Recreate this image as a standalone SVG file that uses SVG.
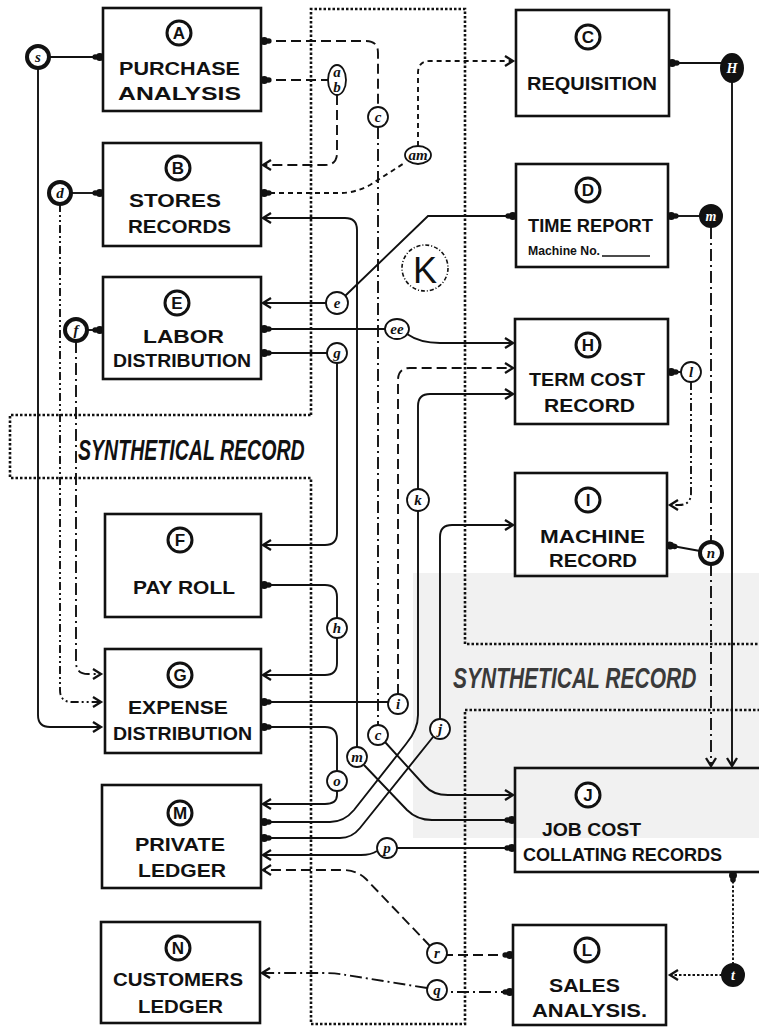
<svg xmlns="http://www.w3.org/2000/svg" width="759" height="1029" viewBox="0 0 759 1029">
<defs>
<style>
.box{fill:none;stroke:#111;stroke-width:2.6}
.bt{font-family:"Liberation Sans",Arial,sans-serif;font-weight:700;font-size:18px;fill:#111}
.nl{font-family:"Liberation Sans",Arial,sans-serif;font-weight:700;font-size:17px;fill:#111;text-anchor:middle}
.nc{fill:#fff;stroke:#111;stroke-width:3}
.sc{fill:#fff;stroke:#111;stroke-width:1.8}
.bc{fill:#fff;stroke:#111;stroke-width:4}
.fc{fill:#111;stroke:#111;stroke-width:2}
.sl{font-family:"Liberation Serif","Times New Roman",serif;font-style:italic;font-weight:700;font-size:15px;fill:#111;text-anchor:middle}
.wl{font-family:"Liberation Serif","Times New Roman",serif;font-style:italic;font-weight:700;font-size:14px;fill:#fff;text-anchor:middle}
.ln{fill:none;stroke:#111;stroke-width:1.9}
.dash{stroke-dasharray:10 5}
.sdash{stroke-dasharray:5 4}
.dd{stroke-dasharray:12 4 2 4}
.ddd{stroke-dasharray:8 3 2 3 2 3}
.dot{stroke-dasharray:2.5 2}
.syn{font-family:"Liberation Sans",Arial,sans-serif;font-style:italic;font-weight:700;font-size:30px}
</style>
<marker id="ar" markerUnits="userSpaceOnUse" markerWidth="14" markerHeight="14" refX="0" refY="0" viewBox="-10 -7 12 14" orient="auto">
<path d="M-8,-5 L0,0 L-8,5" fill="none" stroke="#111" stroke-width="2.3"/>
</marker>
<marker id="ba" markerUnits="userSpaceOnUse" markerWidth="16" markerHeight="14" refX="0" refY="0" viewBox="-1 -7 14 14" orient="auto">
<circle cx="3.2" cy="0" r="4" fill="#111"/>
<circle cx="7.8" cy="0" r="2.8" fill="#111"/>
</marker>
</defs>
<rect width="759" height="1029" fill="#fff"/>
<rect x="413" y="573" width="346" height="265" fill="#f1f1f1"/>

<g id="boundary">
<path d="M311,415 V9 H465 V644 H760 M760,710 H465 V1024 H311 V478 H10 V415 H311" fill="none" stroke="#111" stroke-width="2.6" stroke-dasharray="2.5 2"/>
<circle cx="425" cy="268" r="23" fill="none" stroke="#111" stroke-width="1.6" stroke-dasharray="4 2 1 2"/>
<text x="425" y="283" font-family="Liberation Sans,Arial,sans-serif" font-size="36" text-anchor="middle" fill="#111">K</text>
<text class="syn" transform="translate(78,460) scale(0.652,1)" x="0" y="0" fill="#111">SYNTHETICAL RECORD</text>
<text class="syn" transform="translate(453,688) scale(0.70,1)" x="0" y="0" fill="#3a3a3a">SYNTHETICAL RECORD</text>
</g>

<g id="connectors">
<path class="ln" d="M103,57 H49" marker-start="url(#ba)"/>
<path class="ln" d="M38,68 V715 Q38,727 50,727 H101" marker-end="url(#ar)"/>
<path class="ln" d="M103,193 H71" marker-start="url(#ba)"/>
<path class="ln ddd" d="M60,204 V690 Q60,702 72,702 H101" marker-end="url(#ar)"/>
<path class="ln" d="M103,330 H87" marker-start="url(#ba)"/>
<path class="ln dd" d="M76,341 V662 Q76,674 88,674 H101" marker-end="url(#ar)"/>
<path class="ln dash" d="M261,41 H366 Q378,41 378,53 V107" marker-start="url(#ba)"/>
<path class="ln dd" d="M378,127 V725"/>
<path class="ln" d="M385,742 L425,786 Q433,795 448,795 H513" marker-end="url(#ar)"/>
<path class="ln dash" d="M261,80 H328" marker-start="url(#ba)"/>
<path class="ln dash" d="M337,95 V153 Q337,165 325,165 H263" marker-end="url(#ar)"/>
<path class="ln sdash" d="M261,193 H340 Q355,193 370,185 L406,162" marker-start="url(#ba)"/>
<path class="ln sdash" d="M418,146 V73 Q418,61 430,61 H513" marker-end="url(#ar)"/>
<path class="ln" d="M515,820 H432 Q417,820 407,810 L364,765" marker-start="url(#ba)"/>
<path class="ln" d="M357,747 V230 Q357,218 345,218 H263" marker-end="url(#ar)"/>
<path class="ln" d="M516,216 H428 L345,296" marker-start="url(#ba)"/>
<path class="ln" d="M326,303 H263" marker-end="url(#ar)"/>
<path class="ln" d="M261,329 H385" marker-start="url(#ba)"/>
<path class="ln" d="M407,334 Q420,343 440,343 H513" marker-end="url(#ar)"/>
<path class="ln" d="M261,353 H327" marker-start="url(#ba)"/>
<path class="ln" d="M337,363 V533 Q337,545 325,545 H263" marker-end="url(#ar)"/>
<path class="ln" d="M261,585 H325 Q337,585 337,597 V618" marker-start="url(#ba)"/>
<path class="ln" d="M337,638 V663 Q337,675 325,675 H263" marker-end="url(#ar)"/>
<path class="ln" d="M261,702 H388" marker-start="url(#ba)"/>
<path class="ln dash" d="M398,694 V380 Q398,368 410,368 H513" marker-end="url(#ar)"/>
<path class="ln" d="M261,727 H325 Q337,727 337,739 V771" marker-start="url(#ba)"/>
<path class="ln" d="M337,791 V795 Q337,804 325,804 H263" marker-end="url(#ar)"/>
<path class="ln" d="M261,822 H330 Q344,822 354,810 L406,744 Q418,730 418,715 V511" marker-start="url(#ba)"/>
<path class="ln" d="M418,489 V406 Q418,394 430,394 H513" marker-end="url(#ar)"/>
<path class="ln" d="M261,838 H340 Q352,838 360,828 L433,737" marker-start="url(#ba)"/>
<path class="ln" d="M440,719 V537 Q440,525 452,525 H513" marker-end="url(#ar)"/>
<path class="ln" d="M515,848 H397" marker-start="url(#ba)"/>
<path class="ln" d="M377,851 Q371,855 361,855 H263" marker-end="url(#ar)"/>
<path class="ln dash" d="M513,955 H447" marker-start="url(#ba)"/>
<path class="ln dash" d="M430,946 L366,879 Q357,870 342,870 H263" marker-end="url(#ar)"/>
<path class="ln dd" d="M513,992 H447" marker-start="url(#ba)"/>
<path class="ln dd" d="M427,988 L346,975 Q336,973 322,973 H262" marker-end="url(#ar)"/>
<path class="ln" d="M669,63 H721" marker-start="url(#ba)"/>
<path class="ln" d="M732,82 V766" marker-end="url(#ar)"/>
<path class="ln" d="M668,216 H700" marker-start="url(#ba)"/>
<path class="ln dd" d="M711,227 V542"/>
<path class="ln" d="M667,545 L700,551" marker-start="url(#ba)"/>
<path class="ln dd" d="M711,564 V766" marker-end="url(#ar)"/>
<path class="ln" d="M668,372 H681" marker-start="url(#ba)"/>
<path class="ln ddd" d="M691,382 V493 Q691,505 679,505 H670" marker-end="url(#ar)"/>
<path class="ln dot" d="M733,872 V964" marker-start="url(#ba)"/>
<path class="ln dot" d="M722,975 H670" marker-end="url(#ar)"/>
</g>

<g id="connector-labels">
<circle class="bc" cx="38" cy="57" r="11"/><text class="sl" x="38" y="62">s</text>
<circle class="bc" cx="60" cy="193" r="11"/><text class="sl" x="60" y="198">d</text>
<circle class="bc" cx="76" cy="330" r="11"/><text class="sl" x="76" y="335">f</text>
<circle class="sc" cx="378" cy="117" r="10"/><text class="sl" x="378" y="122">c</text>
<ellipse class="sc" cx="337" cy="80" rx="9" ry="15"/><text class="sl" x="337" y="77" font-size="10">a</text><text class="sl" x="337" y="92" font-size="10">b</text>
<ellipse class="sc" cx="418" cy="155" rx="13" ry="9"/><text class="sl" x="418" y="160" font-size="13">am</text>
<circle class="sc" cx="337" cy="303" r="11"/><text class="sl" x="337" y="308">e</text>
<ellipse class="sc" cx="397" cy="329" rx="12" ry="10"/><text class="sl" x="397" y="334" font-size="14">ee</text>
<circle class="sc" cx="337" cy="353" r="10"/><text class="sl" x="337" y="358">g</text>
<circle class="sc" cx="337" cy="628" r="10"/><text class="sl" x="337" y="633">h</text>
<circle class="sc" cx="398" cy="704" r="10"/><text class="sl" x="398" y="709">i</text>
<circle class="sc" cx="418" cy="500" r="11"/><text class="sl" x="418" y="505">k</text>
<circle class="sc" cx="440" cy="729" r="10"/><text class="sl" x="440" y="734">j</text>
<circle class="sc" cx="378" cy="735" r="10"/><text class="sl" x="378" y="740">c</text>
<circle class="sc" cx="357" cy="757" r="10"/><text class="sl" x="357" y="762">m</text>
<circle class="sc" cx="337" cy="781" r="10"/><text class="sl" x="337" y="786">o</text>
<circle class="sc" cx="387" cy="848" r="10"/><text class="sl" x="387" y="853">p</text>
<circle class="sc" cx="437" cy="953" r="10"/><text class="sl" x="437" y="958">r</text>
<circle class="sc" cx="437" cy="990" r="10"/><text class="sl" x="437" y="995">q</text>
<circle class="sc" cx="691" cy="372" r="10"/><text class="sl" x="691" y="377">l</text>
<ellipse class="fc" cx="732" cy="68" rx="11" ry="14"/><text class="wl" x="732" y="73">H</text>
<circle class="fc" cx="711" cy="216" r="11"/><text class="wl" x="711" y="221">m</text>
<circle class="bc" cx="711" cy="553" r="11"/><text class="sl" x="711" y="558">n</text>
<circle class="fc" cx="733" cy="975" r="11"/><text class="wl" x="733" y="980">t</text>
</g>

<g id="node-A">
<rect class="box" x="103" y="8" width="158" height="103"/>
<circle class="nc" cx="179" cy="33" r="12"/><text class="nl" x="179" y="39">A</text>
<text class="bt" x="119" y="75" textLength="121" lengthAdjust="spacingAndGlyphs">PURCHASE</text>
<text class="bt" x="118" y="100" textLength="123" lengthAdjust="spacingAndGlyphs">ANALYSIS</text>
</g>
<g id="node-B">
<rect class="box" x="103" y="143" width="158" height="103"/>
<circle class="nc" cx="178" cy="168" r="12"/><text class="nl" x="178" y="174">B</text>
<text class="bt" x="129" y="207" textLength="92" lengthAdjust="spacingAndGlyphs">STORES</text>
<text class="bt" x="128" y="233" textLength="103" lengthAdjust="spacingAndGlyphs">RECORDS</text>
</g>
<g id="node-E">
<rect class="box" x="103" y="277" width="158" height="102"/>
<circle class="nc" cx="177" cy="303" r="12"/><text class="nl" x="177" y="309">E</text>
<text class="bt" x="143" y="343" textLength="81" lengthAdjust="spacingAndGlyphs">LABOR</text>
<text class="bt" x="113" y="367" textLength="138" lengthAdjust="spacingAndGlyphs">DISTRIBUTION</text>
</g>
<g id="node-F">
<rect class="box" x="105" y="514" width="156" height="103"/>
<circle class="nc" cx="180" cy="540" r="12"/><text class="nl" x="180" y="546">F</text>
<text class="bt" x="133" y="594" textLength="102" lengthAdjust="spacingAndGlyphs">PAY ROLL</text>
</g>
<g id="node-G">
<rect class="box" x="105" y="649" width="156" height="104"/>
<circle class="nc" cx="180" cy="675" r="12"/><text class="nl" x="180" y="681">G</text>
<text class="bt" x="128" y="714" textLength="100" lengthAdjust="spacingAndGlyphs">EXPENSE</text>
<text class="bt" x="113" y="740" textLength="139" lengthAdjust="spacingAndGlyphs">DISTRIBUTION</text>
</g>
<g id="node-M">
<rect class="box" x="102" y="785" width="159" height="103"/>
<circle class="nc" cx="180" cy="813" r="12"/><text class="nl" x="180" y="819">M</text>
<text class="bt" x="135" y="851" textLength="90" lengthAdjust="spacingAndGlyphs">PRIVATE</text>
<text class="bt" x="138" y="877" textLength="88" lengthAdjust="spacingAndGlyphs">LEDGER</text>
</g>
<g id="node-N">
<rect class="box" x="101" y="922" width="159" height="101"/>
<circle class="nc" cx="178" cy="948" r="12"/><text class="nl" x="178" y="954">N</text>
<text class="bt" x="113" y="986" textLength="130" lengthAdjust="spacingAndGlyphs">CUSTOMERS</text>
<text class="bt" x="138" y="1013" textLength="85" lengthAdjust="spacingAndGlyphs">LEDGER</text>
</g>
<g id="node-C">
<rect class="box" x="516" y="10" width="153" height="106"/>
<circle class="nc" cx="588" cy="37" r="12"/><text class="nl" x="588" y="43">C</text>
<text class="bt" x="527" y="90" textLength="130" lengthAdjust="spacingAndGlyphs">REQUISITION</text>
</g>
<g id="node-D">
<rect class="box" x="516" y="164" width="152" height="103"/>
<circle class="nc" cx="588" cy="190" r="12"/><text class="nl" x="588" y="196">D</text>
<text class="bt" x="528" y="232" textLength="125" lengthAdjust="spacingAndGlyphs">TIME REPORT</text>
<text x="528" y="255" font-family="Liberation Sans,Arial,sans-serif" font-weight="700" font-size="13" textLength="72" lengthAdjust="spacingAndGlyphs" fill="#111">Machine No.</text>
<line x1="602" y1="256" x2="650" y2="256" stroke="#111" stroke-width="1.5"/>
</g>
<g id="node-H">
<rect class="box" x="515" y="319" width="153" height="105"/>
<circle class="nc" cx="588" cy="345" r="12"/><text class="nl" x="588" y="351">H</text>
<text class="bt" x="529" y="386" textLength="116" lengthAdjust="spacingAndGlyphs">TERM COST</text>
<text class="bt" x="544" y="412" textLength="91" lengthAdjust="spacingAndGlyphs">RECORD</text>
</g>
<g id="node-I">
<rect class="box" x="515" y="473" width="152" height="103"/>
<circle class="nc" cx="588" cy="500" r="12"/><text class="nl" x="588" y="506">I</text>
<text class="bt" x="540" y="543" textLength="105" lengthAdjust="spacingAndGlyphs">MACHINE</text>
<text class="bt" x="549" y="567" textLength="88" lengthAdjust="spacingAndGlyphs">RECORD</text>
</g>
<g id="node-J">
<rect class="box" x="515" y="768" width="260" height="104"/>
<circle class="nc" cx="588" cy="795" r="12"/><text class="nl" x="588" y="801">J</text>
<text class="bt" x="542" y="836" textLength="99" lengthAdjust="spacingAndGlyphs" font-weight="400">JOB COST</text>
<text class="bt" x="523" y="861" textLength="199" lengthAdjust="spacingAndGlyphs">COLLATING RECORDS</text>
</g>
<g id="node-L">
<rect class="box" x="513" y="925" width="153" height="100"/>
<circle class="nc" cx="587" cy="950" r="12"/><text class="nl" x="587" y="956">L</text>
<text class="bt" x="549" y="992" textLength="71" lengthAdjust="spacingAndGlyphs">SALES</text>
<text class="bt" x="532" y="1017" textLength="115" lengthAdjust="spacingAndGlyphs">ANALYSIS.</text>
</g>
</svg>
